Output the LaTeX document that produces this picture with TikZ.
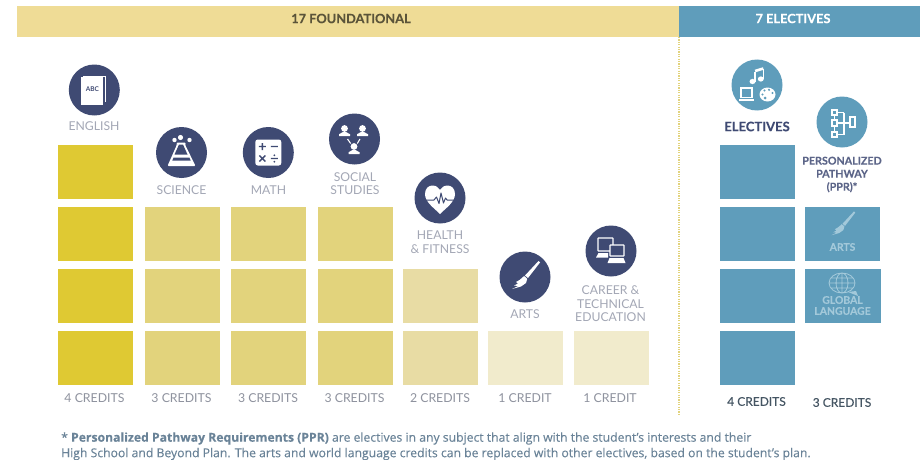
\documentclass[tikz,border=0pt]{standalone}
\usepackage{fontspec}
\setmainfont{Lato}
\newfontfamily\semifont[FakeBold=0.25]{Lato}
\newfontfamily\notefont[FakeBold=0.12]{Open Sans}
\definecolor{hdrY}{HTML}{EFDC96}
\definecolor{hdrB}{HTML}{5F9DBB}
\definecolor{yA}{HTML}{DFC933}
\definecolor{yB}{HTML}{E2D37C}
\definecolor{yC}{HTML}{E8DCA4}
\definecolor{yD}{HTML}{F1EBCC}
\definecolor{navy}{HTML}{3F4A73}
\definecolor{lbl}{HTML}{A3A7B5}
\definecolor{cred}{HTML}{8E929E}
\definecolor{pale}{HTML}{A3C9DA}
\definecolor{note}{HTML}{6A8398}
\tikzset{
  cell/.style={anchor=north west,minimum width=75pt,minimum height=54pt,inner sep=0pt,outer sep=0pt},
  disc/.style={circle,minimum size=51pt,inner sep=0pt,fill=navy},
  bdisc/.style={circle,minimum size=51pt,inner sep=0pt,fill=hdrB},
  label text/.style={font=\fontsize{12.2}{13.5}\selectfont,text=lbl,align=center,inner sep=0pt},
  credit/.style={font=\fontsize{12.3}{13}\selectfont,text=cred,inner sep=0pt},
  header/.style={font=\semifont\fontsize{12.8}{13}\selectfont\bfseries,inner sep=0pt},
  small cell text/.style={font=\semifont\fontsize{10.4}{11}\selectfont\bfseries,text=pale,inner sep=0pt,align=center},
  notetext/.style={anchor=west,inner sep=0pt,text=note,font=\notefont\fontsize{12.2}{13}\selectfont},
}
\newcommand{\brushicon}[1]{%
  \fill[#1] (13.5,-16) -- (15,-14.5) -- (3,1) -- (0,-1.5) -- cycle;
  \fill[#1] (-0.8,-1) -- (2.2,1.8) -- (1,6) -- (-4,9.5) -- (-13,12) -- (-7,9) -- (-11,8.5) -- (-7,6.5) -- (-9,5) -- (-5.5,3) -- cycle;
}
\begin{document}
\begin{tikzpicture}[x=1pt,y=-1pt]
\useasboundingbox (0,0) rectangle (920,460);
\fill[white] (0,0) rectangle (920,460);
% headers
\node[fill=hdrY,anchor=north west,minimum width=662pt,minimum height=31pt,inner sep=0pt] (hf) at (17,6) {};
\node[fill=hdrB,anchor=north west,minimum width=241pt,minimum height=31pt,inner sep=0pt] (he) at (679,6) {};
\node[header,text=black!62!hdrY] (hft) at (351,18.5) {17 FOUNDATIONAL};
\node[header,text=white] (het) at (793,18.5) {7 ELECTIVES};
\coordinate (divA) at (679,37);
\coordinate (divB) at (679,415);
\draw[yB,dash pattern=on 1.2pt off 1.2pt,line width=1.2pt] (divA) -- (divB);
% cells
\foreach \n/\y in {a/145,b/207,c/269,d/331}{\node[cell,fill=yA] (en\n) at (58,\y) {};}
\foreach \n/\y in {b/207,c/269,d/331}{
  \node[cell,fill=yB] (sc\n) at (145,\y) {};
  \node[cell,fill=yB] (ma\n) at (231,\y) {};
  \node[cell,fill=yB] (so\n) at (318,\y) {};
}
\foreach \n/\y in {c/269,d/331}{\node[cell,fill=yC] (he\n) at (403,\y) {};}
\node[cell,fill=yD] (ar) at (488,331) {};
\node[cell,fill=yD] (ca) at (574,331) {};
\foreach \n/\y in {a/145,b/207,c/269,d/331}{\node[cell,fill=hdrB] (el\n) at (720,\y) {};}
\node[cell,fill=hdrB] (pa) at (805,207) {};
\node[cell,fill=hdrB,minimum width=76pt] (pb) at (805,269) {};
% credits
\foreach \n/\x/\t in {ca/94.5/4 CREDITS,cb/181.5/3 CREDITS,cc/268/3 CREDITS,cd/354.5/3 CREDITS,ce/440/2 CREDITS,cf/525/1 CREDIT,cg/610/1 CREDIT}{
  \node[credit] (\n) at (\x,398.5) {\t};}
\node[credit,text=black!35!note,font=\semifont\fontsize{12}{13}\selectfont] (ch) at (756.5,401.5) {4 CREDITS};
\node[credit,text=black!35!note,font=\semifont\fontsize{12}{13}\selectfont] (ci) at (842,402.5) {3 CREDITS};
% discs
\node[disc] (dEn) at (94.3,90) {};
\node[disc] (dSc) at (181.5,152.5) {};
\node[disc] (dMa) at (268.3,152.5) {};
\node[disc] (dSo) at (354.5,139) {};
\node[disc] (dHe) at (440,198) {};
\node[disc] (dAr) at (525,277) {};
\node[disc] (dCa) at (611,251) {};
\node[bdisc] (dEl) at (757,85) {};
\node[bdisc] (dPp) at (842,122) {};
% labels
\node[label text] (lEn) at (94,126.5) {ENGLISH};
\node[label text] (lSc) at (181.5,190.5) {SCIENCE};
\node[label text] (lMa) at (268.5,190.5) {MATH};
\node[label text] (lSo) at (355,183.5) {SOCIAL\\STUDIES};
\node[label text] (lHe) at (440,242) {HEALTH\\\&~FITNESS};
\node[label text] (lAr) at (525,314) {ARTS};
\node[label text] (lCa) at (610.5,304) {CAREER \&\\TECHNICAL\\EDUCATION};
\node[header,text=navy,font=\semifont\fontsize{13}{13}\selectfont\bfseries] (lEl) at (757,126.5) {ELECTIVES};
\node[header,text=navy!85!white,align=center,font=\semifont\fontsize{10.7}{13}\selectfont\bfseries] (lPp) at (842,174.5) {PERSONALIZED\\PATHWAY\\(PPR)*};
% English icon
\begin{scope}[shift={(dEn)}]
  \fill[white] (-13,-13) rectangle (9,15);
  \draw[white,line width=1pt] (-11,-14) -- (11,-14) -- (11,12);
  \node[text=navy,font=\fontsize{6.5}{7}\selectfont\bfseries,inner sep=0pt] (iAbc) at (-2,-1) {ABC};
\end{scope}
% Science icon
\begin{scope}[shift={(dSc)}]
  \fill[white] (-7,-12.5) circle (2.2) (-1,-15) circle (2.6) (8,-12.5) circle (2.2);
  \fill[white,rounded corners=1pt] (-5,-10) -- (4,-10) -- (4,-8) -- (3.5,-8) -- (14,13.5) -- (-14,13.5) -- (-4.5,-8) -- (-5,-8) -- cycle;
  \fill[navy] (-2.5,-8) -- (1.5,-8) -- (6,2) -- (-7,2) -- cycle;
  \fill[navy] (-8,5.2) -- (8,5.2) -- (9.2,8) -- (-9.2,8) -- cycle;
\end{scope}
% Math icon
\begin{scope}[shift={(dMa)}]
  \fill[white,rounded corners=2.5pt] (-13,-13) rectangle (13,13);
  \draw[navy,line width=1.4pt] (-9.5,-6) -- (-2.5,-6) (-6,-9.5) -- (-6,-2.5) (2.5,-6) -- (9.5,-6)
    (-9,3) -- (-3,9) (-9,9) -- (-3,3) (2.5,6) -- (9.5,6);
  \fill[navy] (6,2.8) circle (1) (6,9.2) circle (1);
\end{scope}
% Social icon
\begin{scope}[shift={(dSo)}]
  \foreach \px/\py in {-10/-8,8/-8,-0.5/10}{
    \fill[white] (\px,\py-2.5) circle (3.4);
    \fill[white] (\px-5.5,\py+5) -- (\px-5.5,\py+3.2) -- (\px-1.8,\py+1.2) -- (\px+1.8,\py+1.2) -- (\px+5.5,\py+3.2) -- (\px+5.5,\py+5) -- cycle;
  }
  \draw[white,line width=1.1pt] (-7,0) -- (-3.8,4.5) (5.5,0) -- (2.8,4.5);
\end{scope}
% Health icon
\begin{scope}[shift={(dHe)}]
  \fill[white] (0,16) .. controls (-6,10) and (-15,4) .. (-15,-4)
     .. controls (-15,-10) and (-11,-12.5) .. (-7.5,-12.5)
     .. controls (-4,-12.5) and (-1.5,-10.5) .. (0,-8)
     .. controls (1.5,-10.5) and (4,-12.5) .. (7.5,-12.5)
     .. controls (11,-12.5) and (15,-10) .. (15,-4)
     .. controls (15,4) and (6,10) .. (0,16) -- cycle;
  \draw[navy,line width=1pt,line join=round] (-15,2) -- (-6,2) -- (-3.5,-1) -- (-1,5.5) -- (1,-5) -- (3.5,5) -- (5.5,0) -- (7,2) -- (15,2);
\end{scope}
% Arts icon
\begin{scope}[shift={(dAr)}]
  \brushicon{white}
\end{scope}
% Career icon
\begin{scope}[shift={(dCa)}]
  \draw[white,line width=1.1pt,fill=navy,rounded corners=.5pt] (-13,-13) rectangle (2,0);
  \fill[white] (-12.5,2) -- (-3,2) -- (-3,6.5) -- (-15,6.5) -- cycle;
  \draw[white,line width=1.1pt,fill=navy,rounded corners=.5pt] (-1,-6) rectangle (13,5);
  \fill[white] (-1.5,7) -- (12.5,7) -- (14.5,12) -- (-3.5,12) -- cycle;
\end{scope}
% Electives icon
\begin{scope}[shift={(dEl)}]
  \fill[white] (-4.5,-3.5) ellipse (3 and 2.6) (3.8,-6) ellipse (3 and 2.6);
  \draw[white,line width=1.3pt] (-1.9,-3.5) -- (-1.9,-13.5) (6.3,-6) -- (6.3,-16);
  \draw[white,line width=2.6pt] (-1.9,-14) -- (6.3,-16.5);
  \draw[white,line width=1.2pt,fill=hdrB] (-16,3) rectangle (-5,12.5);
  \fill[white] (-18,13.5) rectangle (-3,16);
  \fill[white] (10.5,9.5) ellipse (8 and 7);
  \fill[hdrB] (7.5,5.5) circle (1.2) (12,4.8) circle (1.2) (15.5,8) circle (1.2) (5.5,9.5) circle (1.2) (8,13) circle (1.5);
\end{scope}
% PPR icon
\begin{scope}[shift={(dPp)}]
  \draw[white,line width=1.1pt] (-10,-12) rectangle (-5,-7) (-10,-2) rectangle (-5,4) (-10,10) rectangle (-5,15) (8,-5) rectangle (13,5);
  \draw[white,line width=1.1pt] (-7.5,-7) -- (-7.5,-2) (-7.5,4) -- (-7.5,10) (-5,1) -- (8,1) (2,-9.5) -- (2,12.5) (-5,-9.5) -- (2,-9.5) (-5,12.5) -- (2,12.5);
\end{scope}
% PPR arts cell
\begin{scope}[shift={(pa.center)},shift={(0,-9)},scale=.85]
  \brushicon{pale}
\end{scope}
\node[small cell text] (tAr) at (842.5,247) {ARTS};
% PPR globe cell
\begin{scope}[shift={(842,283)}]
  \draw[pale,line width=.8pt] (0,0) ellipse (13 and 10) (0,0) ellipse (6 and 10) (-13,0) -- (13,0) (-11,-5) -- (11,-5) (-11,5) -- (11,5) (0,-10) -- (0,10);
  \fill[pale] (6,9) -- (14,8) -- (16,13) -- cycle;
\end{scope}
\node[small cell text] (tGl) at (842.5,305.5) {GLOBAL\\LANGUAGE};
% footnote
\node[notetext] (n1) at (61,438.5) {* \textbf{Personalized Pathway Requirements (PPR)} are electives in any subject that align with the student’s interests and their};
\node[notetext] (n2) at (61,454) {High School and Beyond Plan. The arts and world language credits can be replaced with other electives, based on the student’s plan.};
\end{tikzpicture}
\end{document}
